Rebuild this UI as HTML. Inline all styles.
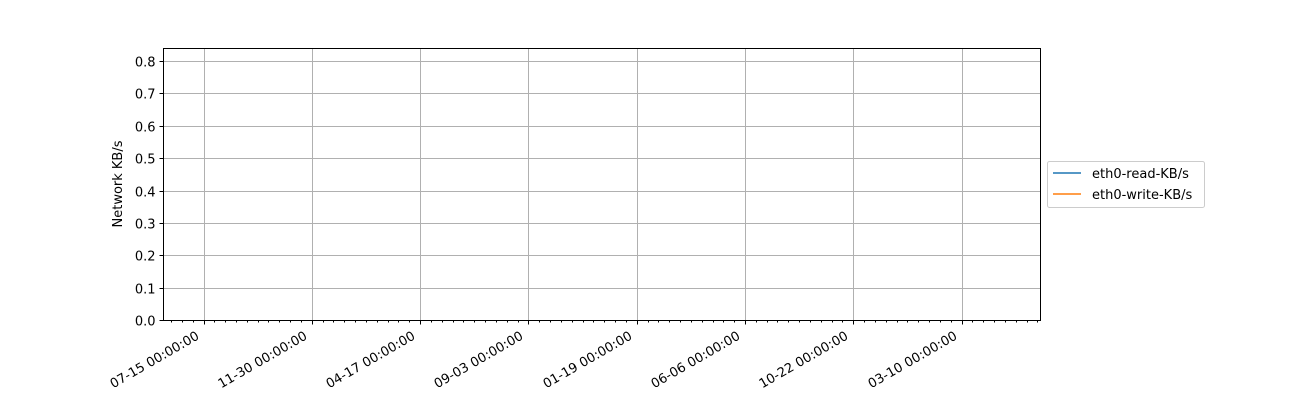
<!DOCTYPE html>
<html><head><meta charset="utf-8"><style>
html,body{margin:0;padding:0;background:#fff;}
svg text{font-family:"DejaVu Sans","Liberation Sans",sans-serif;font-size:13px;fill:#000;}
</style></head><body>
<svg id="chart" width="1300" height="400" viewBox="0 0 1300 400">
<g id="grid"></g>
<g id="axes"></g>
<rect x="163.5" y="48.5" width="877" height="272" fill="none" stroke="#000" stroke-width="1"/>
<text transform="translate(122,184) rotate(-90)" text-anchor="middle">Network KB/s</text>
<g>
<rect x="1047.5" y="161.5" width="157" height="46" rx="2" fill="#fff" stroke="#ccc"/>
<g><line x1="1053" y1="173" x2="1081" y2="173" stroke="#1f77b4" stroke-width="1.5"/><text x="1092" y="178">eth0-read-KB/s</text></g>
<g><line x1="1053" y1="194" x2="1081" y2="194" stroke="#ff7f0e" stroke-width="1.5"/><text x="1092" y="199">eth0-write-KB/s</text></g>
</g>
</svg>
<script>
const yTicks=[0,0.1,0.2,0.3,0.4,0.5,0.6,0.7,0.8];
const xTickLabels=["07-15 00:00:00","11-30 00:00:00","04-17 00:00:00","09-03 00:00:00","01-19 00:00:00","06-06 00:00:00","10-22 00:00:00","03-10 00:00:00"];
const readSeries=[];
const writeSeries=[];
const NS="http://www.w3.org/2000/svg";
const L=163.5,R=1040.5,T=48.5,B=320.5;
const yScale=v=>320-v*(259/0.8);
const xScale=i=>203.5+i*108.3;
const grid=document.getElementById('grid'),axes=document.getElementById('axes');
function mk(tag,attrs,parent){const e=document.createElementNS(NS,tag);for(const k in attrs)e.setAttribute(k,attrs[k]);parent.appendChild(e);return e;}
yTicks.forEach(v=>{const y=Math.round(yScale(v))+0.5;
 const g=mk('line',{x1:L,x2:R,y1:y,y2:y,stroke:'#b0b0b0','stroke-width':1},grid);
 
 
 mk('line',{x1:L-4,x2:L,y1:y,y2:y,stroke:'#000'},axes);
 const t=mk('text',{x:L-8,y:y+5,'text-anchor':'end'},axes);t.textContent=v.toFixed(1);
 
 
});
for(let k=-4;k<=xTickLabels.length*10;k++){const x=xScale(0)+k*10.83;if(x<L||x>R)continue;
 const major=k%10===0;const xx=Math.round(x)+0.5;
 mk('line',{x1:xx,x2:xx,y1:B,y2:B+(major?4:2),stroke:'#000'},axes);}
xTickLabels.forEach((s,i)=>{const x=Math.round(xScale(i))+0.5;
 const g=mk('line',{x1:x,x2:x,y1:T,y2:B,stroke:'#b0b0b0'},grid);
 
 
 const t=mk('text',{'text-anchor':'end',transform:`translate(${x-9},${B+10}) rotate(-30)`},axes);
 t.setAttribute('dy','0.7em');t.textContent=s;
 
 
});
</script>
</body></html>
